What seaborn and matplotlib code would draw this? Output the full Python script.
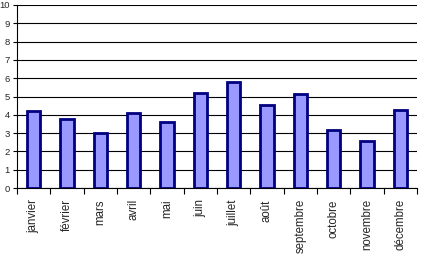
import matplotlib
matplotlib.use("Agg")
import matplotlib.pyplot as plt
import seaborn as sns
import pandas as pd
import numpy as np

months = ["janvier", "février", "mars", "avril", "mai", "juin", "juillet",
          "août", "septembre", "octobre", "novembre", "décembre"]
values = [4.2, 3.8, 3.02, 4.1, 3.6, 5.2, 5.8, 4.53, 5.14, 3.17, 2.57, 4.26]
yticks = list(range(0, 11))

sns.set_style("white")
plt.rcParams['font.family'] = ['Liberation Sans', 'DejaVu Sans']

df = pd.DataFrame({"mois": months, "val": values})

fig = plt.figure(figsize=(4.22, 2.62), dpi=100)
ax = fig.add_axes([0.040, 0.282, 0.948, 0.699])
sns.barplot(data=df, x="mois", y="val", ax=ax, color="#9999FF", saturation=1,
            width=0.40, edgecolor="#000080", linewidth=2.0, zorder=3)

ax.set_ylim(0, 10)
ax.set_xlim(-0.5, len(months) - 0.5)
ax.set_yticks(yticks)
ax.set_yticklabels([str(t) for t in yticks], fontsize=6.8)
ax.yaxis.grid(True, color="black", linewidth=0.8, zorder=0)
ax.set_axisbelow(True)

ax.set_xticks(range(len(months)))
ax.set_xticklabels(months, rotation=90, fontsize=8.3)
ax.tick_params(axis="x", length=0, pad=8)
ax.set_xticks(np.arange(-0.5, len(months), 1.0), minor=True)
ax.tick_params(axis="x", which="minor", length=4, width=0.8, color="black", direction="out", bottom=True)
ax.tick_params(axis="y", length=3, width=0.8, color="black", direction="out", left=True, pad=2)

for s in ["top", "right"]:
    ax.spines[s].set_visible(False)
for s in ["left", "bottom"]:
    ax.spines[s].set_color("black")
    ax.spines[s].set_linewidth(0.8)
ax.set_xlabel("")
ax.set_ylabel("")

fig.savefig("out.png", dpi=100)
